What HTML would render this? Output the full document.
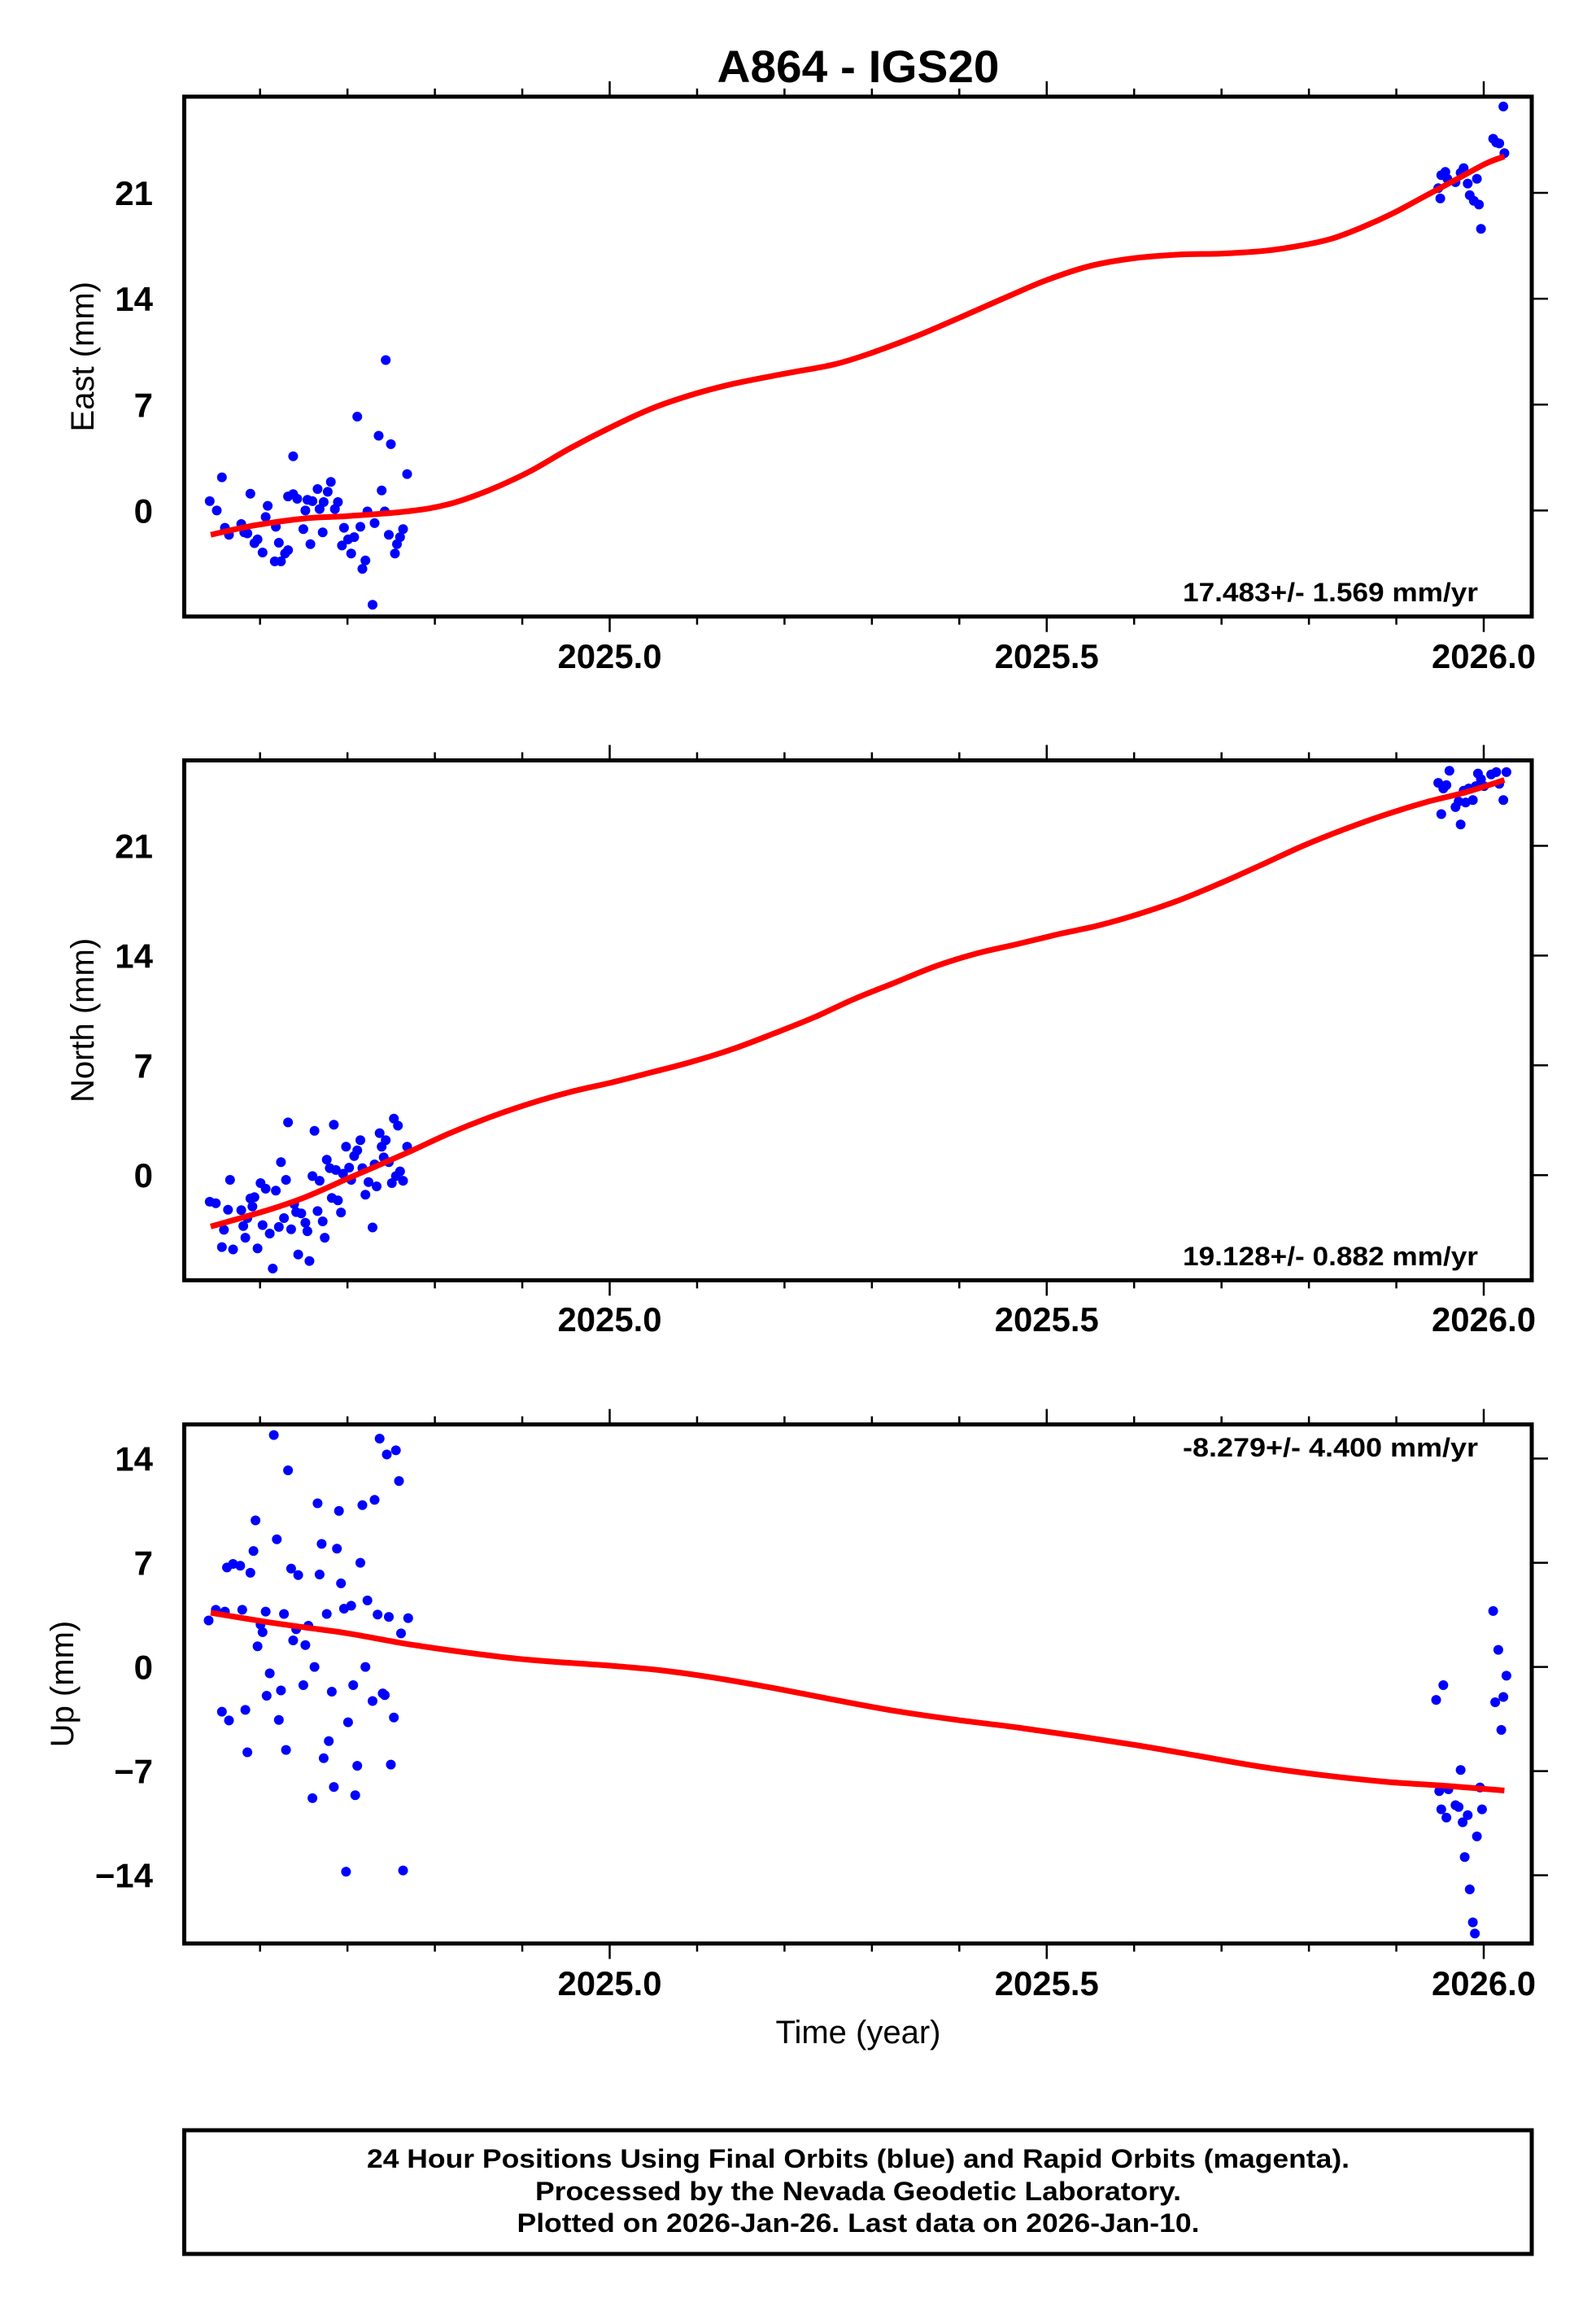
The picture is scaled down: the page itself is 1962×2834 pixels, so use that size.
<!DOCTYPE html>
<html><head><meta charset="utf-8"><style>html,body{margin:0;padding:0;background:#fff}svg{display:block}</style></head>
<body>
<svg id="chart" xmlns="http://www.w3.org/2000/svg" width="1962" height="2834" viewBox="0 0 1962 2834" font-family="Liberation Sans, Arial, sans-serif">
<rect width="1962" height="2834" fill="#fff"/>
<text x="1055" y="101" font-size="56" font-weight="bold" text-anchor="middle" textLength="347" lengthAdjust="spacingAndGlyphs">A864 - IGS20</text>
</svg>
<script>
(function(){
var NS="http://www.w3.org/2000/svg",svg=document.getElementById('chart');
function el(n,a,p){var e=document.createElementNS(NS,n);for(var k in a)e.setAttribute(k,a[k]);(p||svg).appendChild(e);return e;}
function txt(s,a){var e=el('text',a);e.textContent=s;return e;}
function X(t){return 749.5+(t-2025)*1074.5;}
var L0=226.5,R0=1883;
var panels=[
 {top:118.8,bot:757.7,y0:627.4,k:18.59,ticks:[0,7,14,21],lab:"East (mm)",lx:101,lbase:821,rate:"17.483+/- 1.569 mm/yr",ry:739,off:0,sy:900/1568},
 {top:934.5,bot:1573.4,y0:1444.2,k:19.27,ticks:[0,7,14,21],lab:"North (mm)",lx:101,lbase:1636,rate:"19.128+/- 0.882 mm/yr",ry:1555,off:880,sy:900/1568},
 {top:1750.6,bot:2388.5,y0:2048.6,k:18.29,ticks:[-14,-7,0,7,14],lab:"Up (mm)",lx:76,lbase:2452,rate:"-8.279+/- 4.400 mm/yr",ry:1790,off:1700,sy:1134/1568}
];
var D=[
{dots:[[206,1073],[213,1093],[218,1022],[221,1130],[225,1145],[237,1122],[240,1140],[243,1142],[246,1057],[250,1163],[253,1155],[258,1183],[261,1107],[263,1083],[271,1128],[274,1162],[270,1202],[276,1202],[280,1185],[283,1178],[283,1063],[288,977],[288,1058],[292,1068],[298,1133],[300,1093],[302,1070],[305,1165],[307,1073],[312,1047],[314,1090],[317,1140],[318,1075],[322,1053],[325,1032],[329,1090],[332,1075],[336,1168],[338,1130],[342,1155],[345,1185],[348,1150],[351,892],[354,1128],[356,1218],[359,1200],[361,1095],[366,1295],[368,1120],[372,933],[375,1050],[378,1095],[379,771],[382,1145],[384,951],[388,1185],[390,1165],[393,1150],[396,1133],[400,1015],[1413,403],[1415,425],[1416,375],[1420,368],[1422,383],[1430,390],[1435,370],[1438,360],[1442,393],[1444,418],[1448,430],[1451,383],[1453,438],[1455,490],[1467,297],[1470,305],[1473,307],[1477,228],[1478,328]],
 line:[[207,1145],[250,1125],[300,1110],[342,1105],[400,1095],[440,1080],[480,1050],[520,1010],[560,960],[600,915],[640,875],[680,845],[720,822],[771,800],[820,780],[857,755],[900,720],[943,680],[990,635],[1028,600],[1070,570],[1114,553],[1160,545],[1200,543],[1243,537],[1280,525],[1310,510],[1340,485],[1370,455],[1400,420],[1430,385],[1460,350],[1478,335]]},
{dots:[[206,1040],[212,1043],[218,1137],[220,1100],[224,1057],[226,993],[229,1142],[237,1058],[239,1092],[241,1117],[243,1075],[246,1033],[248,1050],[250,1030],[253,1140],[256,1000],[258,1090],[261,1012],[265,1108],[268,1183],[271,1016],[274,1094],[276,955],[279,1075],[281,993],[283,870],[286,1099],[289,1045],[291,1062],[293,1153],[296,1065],[300,1085],[302,1103],[304,1167],[307,985],[309,888],[312,1060],[314,995],[317,1082],[319,1117],[321,950],[324,968],[326,1032],[328,875],[330,972],[332,1037],[335,1063],[337,980],[340,922],[343,967],[345,993],[348,942],[351,930],[354,908],[356,968],[359,1025],[362,998],[366,1095],[368,960],[370,1007],[373,893],[375,922],[377,945],[379,908],[382,955],[385,1000],[387,862],[389,985],[391,877],[393,975],[396,995],[400,922],[1413,143],[1416,210],[1418,155],[1421,148],[1424,117],[1430,195],[1433,183],[1435,232],[1438,160],[1440,185],[1443,155],[1447,180],[1450,150],[1452,123],[1455,135],[1458,150],[1465,125],[1470,120],[1473,145],[1477,180],[1480,120]],
 line:[[207,1093],[260,1060],[300,1030],[342,990],[400,935],[440,895],[480,860],[520,830],[560,805],[600,785],[640,763],[680,740],[720,713],[760,680],[800,645],[840,605],[880,570],[920,535],[960,508],[1000,488],[1040,467],[1080,448],[1120,423],[1160,393],[1200,357],[1240,318],[1280,278],[1320,243],[1360,212],[1400,185],[1440,163],[1478,137]]},
{dots:[[205,403],[212,385],[218,558],[221,388],[223,313],[225,573],[229,307],[236,310],[238,385],[241,555],[243,627],[246,322],[249,285],[251,233],[253,447],[256,410],[258,423],[261,388],[262,531],[265,493],[269,88],[272,265],[274,572],[276,522],[279,392],[281,623],[283,148],[286,315],[288,437],[291,418],[293,326],[298,513],[300,445],[303,412],[307,705],[309,482],[312,204],[314,325],[316,273],[318,637],[321,392],[323,608],[326,524],[328,686],[331,281],[333,217],[335,340],[338,383],[340,830],[342,576],[345,378],[347,513],[349,700],[351,650],[354,305],[356,207],[359,482],[361,369],[366,540],[368,198],[371,393],[373,94],[376,527],[378,530],[380,121],[382,397],[384,648],[387,568],[389,114],[392,166],[394,425],[396,828],[401,399],[1411,538],[1414,693],[1416,724],[1418,513],[1421,738],[1423,690],[1430,717],[1433,720],[1435,657],[1437,746],[1439,805],[1442,734],[1444,860],[1447,916],[1449,935],[1451,770],[1454,687],[1456,724],[1467,387],[1469,542],[1472,453],[1475,589],[1477,533],[1480,497]],
 line:[[207,390],[260,405],[300,415],[342,425],[400,443],[460,458],[520,470],[600,480],[650,488],[700,500],[760,518],[820,538],[880,557],[940,572],[1000,585],[1060,600],[1120,616],[1180,634],[1240,652],[1300,666],[1360,677],[1420,684],[1478,692]]}
];
var sx=1962/1568;
function smooth(pts){var d='M'+pts[0][0].toFixed(1)+','+pts[0][1].toFixed(1);for(var i=0;i<pts.length-1;i++){var p0=pts[i-1]||pts[i],p1=pts[i],p2=pts[i+1],p3=pts[i+2]||p2;
 var c1=[p1[0]+(p2[0]-p0[0])/6,p1[1]+(p2[1]-p0[1])/6],c2=[p2[0]-(p3[0]-p1[0])/6,p2[1]-(p3[1]-p1[1])/6];
 d+=' C'+c1[0].toFixed(1)+','+c1[1].toFixed(1)+' '+c2[0].toFixed(1)+','+c2[1].toFixed(1)+' '+p2[0].toFixed(1)+','+p2[1].toFixed(1);}return d;}
panels.forEach(function(p,i){
  var d=D[i];
  d.dots.forEach(function(q){el('circle',{cx:(q[0]*sx).toFixed(1),cy:(q[1]*p.sy+p.off).toFixed(1),r:6,fill:'#0000ff'});});
  var pts=d.line.map(function(q){return [q[0]*sx,q[1]*p.sy+p.off];});
  el('path',{d:smooth(pts),fill:'none',stroke:'#ff0000','stroke-width':7,'stroke-linejoin':'round'});
  el('rect',{x:L0,y:p.top,width:R0-L0,height:p.bot-p.top,fill:'none',stroke:'#000','stroke-width':5});
  for(var j=6;j<=20;j++){var t=2024+j/10,x=X(t),maj=(j%5==0),L=maj?17:8;
    el('line',{x1:x,y1:p.top-2,x2:x,y2:p.top-2-L,stroke:'#000','stroke-width':2.5});
    el('line',{x1:x,y1:p.bot+2,x2:x,y2:p.bot+2+L,stroke:'#000','stroke-width':2.5});
    if(maj)txt(t.toFixed(1),{x:x,y:p.lbase,'font-size':42,'font-weight':'bold','text-anchor':'middle',textLength:128,lengthAdjust:'spacingAndGlyphs'});}
  p.ticks.forEach(function(v){var y=p.y0-p.k*v;
    el('line',{x1:R0,y1:y,x2:R0+20,y2:y,stroke:'#000','stroke-width':2.5});
    var s=v<0?'\u2212'+(-v):''+v;
    txt(s,{x:188,y:y+15,'font-size':42,'font-weight':'bold','text-anchor':'end'});});
  var cy=(p.top+p.bot)/2;
  txt(p.lab,{x:0,y:0,'font-size':40,'text-anchor':'middle',transform:'translate('+(p.lx+14)+','+cy+') rotate(-90)'});
  txt(p.rate,{x:1817,y:p.ry,'font-size':32,'font-weight':'bold','text-anchor':'end',textLength:363,lengthAdjust:'spacingAndGlyphs'});
});
txt('Time (year)',{x:1055,y:2511,'font-size':40,'text-anchor':'middle'});
el('rect',{x:L0,y:2618,width:R0-L0,height:152,fill:'none',stroke:'#000','stroke-width':5});
txt('24 Hour Positions Using Final Orbits (blue) and Rapid Orbits (magenta).',{x:1055,y:2664,'font-size':32,'font-weight':'bold','text-anchor':'middle',textLength:1208,lengthAdjust:'spacingAndGlyphs'});
txt('Processed by the Nevada Geodetic Laboratory.',{x:1055,y:2704,'font-size':32,'font-weight':'bold','text-anchor':'middle',textLength:794,lengthAdjust:'spacingAndGlyphs'});
txt('Plotted on 2026-Jan-26. Last data on 2026-Jan-10.',{x:1055,y:2743,'font-size':32,'font-weight':'bold','text-anchor':'middle',textLength:839,lengthAdjust:'spacingAndGlyphs'});
})();
</script>
</body></html>
